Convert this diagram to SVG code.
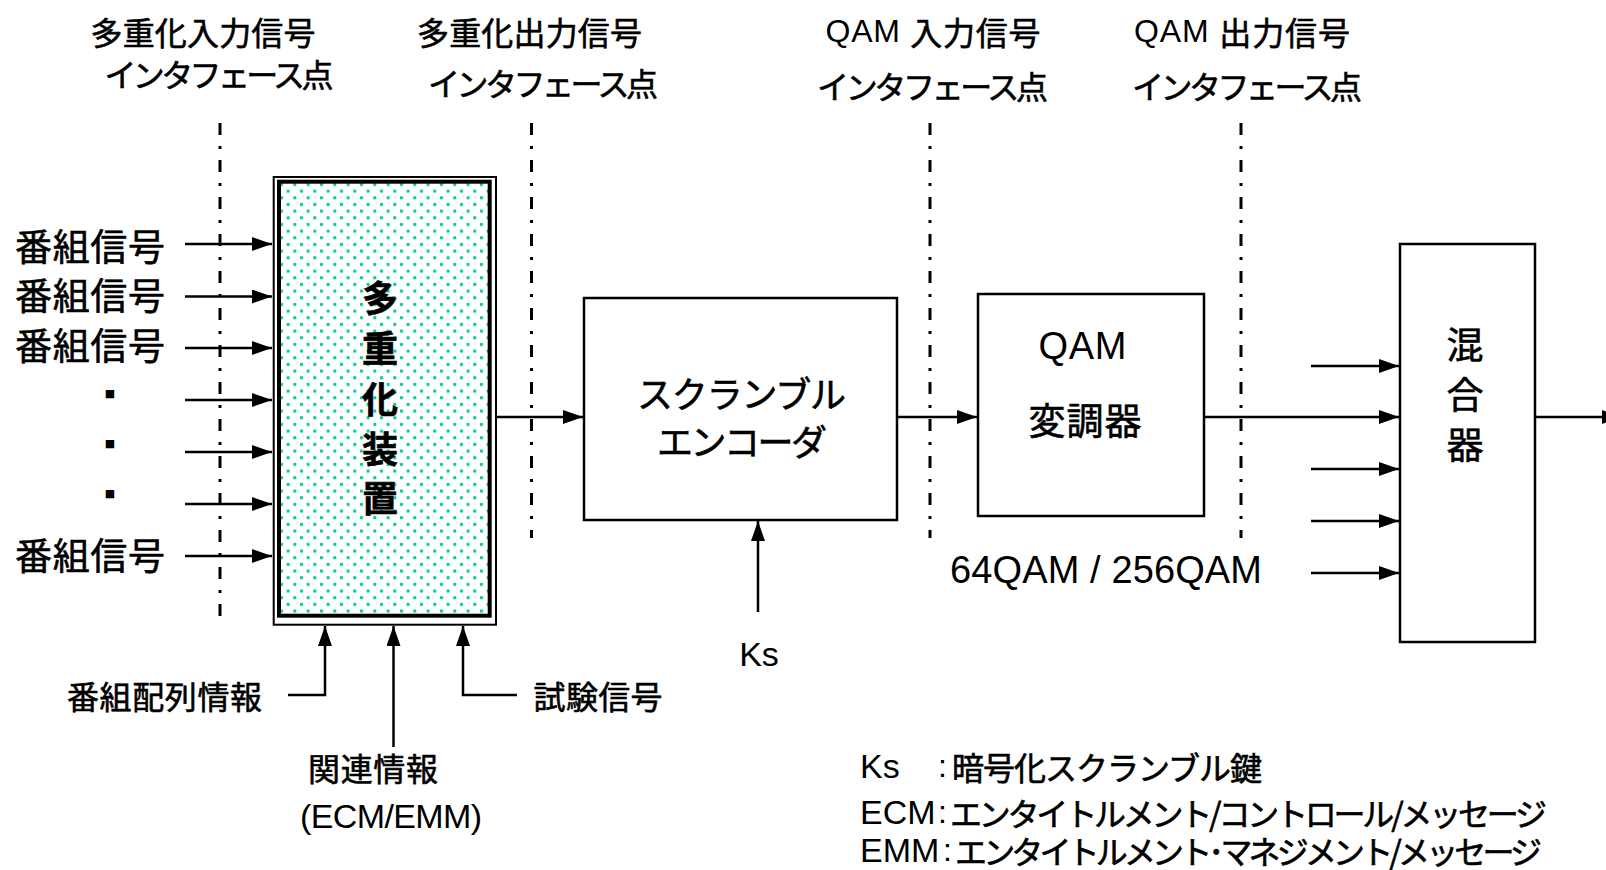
<svg xmlns="http://www.w3.org/2000/svg" width="1606" height="870" viewBox="0 0 1606 870">
<style>
text{font-family:"Liberation Sans","Noto Sans CJK JP",sans-serif;fill:#000;dominant-baseline:central}
.jp{font-family:"Noto Sans CJK JP",sans-serif;stroke:#000;stroke-width:0.6}
.mid{text-anchor:middle}
.t32{font-size:32px}
.t37{font-size:37px}
.sq{font-family:"DejaVu Sans",sans-serif;font-size:11px;text-anchor:middle}
.box{fill:#fff;stroke:#000;stroke-width:2.5}
.ln{fill:none;stroke:#000;stroke-width:2.5}
.dd{fill:none;stroke:#000;stroke-width:3;stroke-dasharray:12 11 3 11}
</style>
<defs>
<marker id="ah" markerUnits="userSpaceOnUse" viewBox="0 0 20 14" refX="20" refY="7" markerWidth="20" markerHeight="14" orient="auto">
<path d="M0,0 L20,7 L0,14 Z" fill="#000"/>
</marker>
<pattern id="dots" patternUnits="userSpaceOnUse" x="279" y="182" width="13.33" height="13.33">
<rect width="13.33" height="13.33" fill="#fff"/>
<rect x="1" y="1" width="3" height="3" fill="#00cc99"/>
<rect x="7.67" y="7.67" width="3" height="3" fill="#00cc99"/>
</pattern>
</defs>

<g id="interface-labels" class="t32">
<text class="mid jp" x="203" y="31" textLength="225">多重化入力信号</text>
<text class="mid jp" x="219" y="73" textLength="229">インタフェース点</text>
<text class="mid jp" x="529.5" y="31" textLength="225">多重化出力信号</text>
<text class="mid jp" x="543" y="82" textLength="230">インタフェース点</text>
<text class="mid" x="933" y="31" textLength="215">QAM <tspan class="jp">入力信号</tspan></text>
<text class="mid jp" x="932.5" y="85" textLength="231">インタフェース点</text>
<text class="mid" x="1242" y="31" textLength="216">QAM <tspan class="jp">出力信号</tspan></text>
<text class="mid jp" x="1247" y="85" textLength="230">インタフェース点</text>
</g>

<g id="interface-lines">
<line class="dd" x1="220" y1="123" x2="220" y2="622"/>
<line class="dd" x1="531.5" y1="123" x2="531.5" y2="538"/>
<line class="dd" x1="930" y1="123" x2="930" y2="538"/>
<line class="dd" x1="1241" y1="123" x2="1241" y2="538"/>
</g>

<g id="program-inputs" class="t37">
<text class="jp" x="15" y="245" textLength="150">番組信号</text>
<text class="jp" x="15" y="294" textLength="150">番組信号</text>
<text class="jp" x="15" y="344" textLength="150">番組信号</text>
<text class="sq" x="110" y="393">■</text>
<text class="sq" x="110" y="443">■</text>
<text class="sq" x="110" y="493">■</text>
<text class="jp" x="15" y="554" textLength="150">番組信号</text>
</g>

<g id="multiplexer">
<rect x="273.7" y="177" width="222.3" height="447.7" fill="#fff" stroke="#000" stroke-width="2"/>
<rect x="279" y="181.7" width="210.7" height="434" fill="url(#dots)" stroke="#000" stroke-width="4"/>
<g font-size="36" font-weight="bold">
<text class="jp mid" x="380" y="296">多</text>
<text class="jp mid" x="380" y="346">重</text>
<text class="jp mid" x="380" y="397">化</text>
<text class="jp mid" x="380" y="447">装</text>
<text class="jp mid" x="380" y="496">置</text>
</g>
</g>

<g id="scrambler">
<rect class="box" x="584" y="298" width="313" height="222"/>
<text class="jp mid" x="741.5" y="392" font-size="36" textLength="209">スクランブル</text>
<text class="jp mid" x="742" y="440" font-size="36" textLength="170">エンコーダ</text>
</g>

<g id="qam-modulator">
<rect class="box" x="978" y="294" width="226" height="222"/>
<text class="mid" x="1082.5" y="346" font-size="38" textLength="88">QAM</text>
<text class="jp mid" x="1085" y="419" font-size="37" textLength="113">変調器</text>
</g>
<text id="qam-modes" class="mid" x="1106" y="570" font-size="38" textLength="312">64QAM / 256QAM</text>

<g id="mixer">
<rect class="box" x="1400" y="244" width="135" height="398"/>
<text class="jp mid" x="1465" y="343" font-size="37">混</text>
<text class="jp mid" x="1465" y="393" font-size="37">合</text>
<text class="jp mid" x="1465" y="443" font-size="37">器</text>
</g>

<g id="side-inputs" class="t32">
<text class="jp" x="67" y="695" textLength="195">番組配列情報</text>
<text class="jp" x="308" y="767" textLength="130">関連情報</text>
<text x="300" y="816" font-size="34" textLength="182">(ECM/EMM)</text>
<text class="jp" x="533.6" y="695" textLength="129">試験信号</text>
<text class="mid" x="759" y="654" font-size="34">Ks</text>
</g>

<g id="legend">
<text x="860" y="766" font-size="34">Ks</text>
<text x="938" y="766" font-size="32">:</text>
<text class="jp" x="952" y="766" font-size="32" textLength="310">暗号化スクランブル鍵</text>
<text x="860" y="812" font-size="34">ECM</text>
<text x="938" y="812" font-size="32">:</text>
<text class="jp" x="950" y="812" font-size="32" textLength="597">エンタイトルメント/コントロール/メッセージ</text>
<text x="860" y="850" font-size="34">EMM</text>
<text x="943" y="850" font-size="32">:</text>
<text class="jp" x="955" y="850" font-size="32" textLength="587">エンタイトルメント･マネジメント/メッセージ</text>
</g>

<g id="connectors" class="ln">
<line x1="185" y1="244" x2="272" y2="244" marker-end="url(#ah)"/>
<line x1="185" y1="296.5" x2="272" y2="296.5" marker-end="url(#ah)"/>
<line x1="185" y1="348" x2="272" y2="348" marker-end="url(#ah)"/>
<line x1="185" y1="400" x2="272" y2="400" marker-end="url(#ah)"/>
<line x1="185" y1="452" x2="272" y2="452" marker-end="url(#ah)"/>
<line x1="185" y1="504" x2="272" y2="504" marker-end="url(#ah)"/>
<line x1="185" y1="556" x2="272" y2="556" marker-end="url(#ah)"/>
<line x1="497" y1="417" x2="583" y2="417" marker-end="url(#ah)"/>
<line x1="758" y1="612" x2="758" y2="521" marker-end="url(#ah)"/>
<line x1="897" y1="417" x2="977" y2="417" marker-end="url(#ah)"/>
<line x1="1204" y1="417" x2="1399" y2="417" marker-end="url(#ah)"/>
<line x1="1311" y1="366" x2="1399" y2="366" marker-end="url(#ah)"/>
<line x1="1311" y1="469" x2="1399" y2="469" marker-end="url(#ah)"/>
<line x1="1311" y1="521" x2="1399" y2="521" marker-end="url(#ah)"/>
<line x1="1311" y1="573" x2="1399" y2="573" marker-end="url(#ah)"/>
<line x1="1535" y1="417" x2="1622" y2="417" marker-end="url(#ah)"/>
<path d="M288,695 H325 V626" marker-end="url(#ah)"/>
<path d="M393.5,747 V626" marker-end="url(#ah)"/>
<path d="M517,695 H463 V626" marker-end="url(#ah)"/>
</g>
</svg>
